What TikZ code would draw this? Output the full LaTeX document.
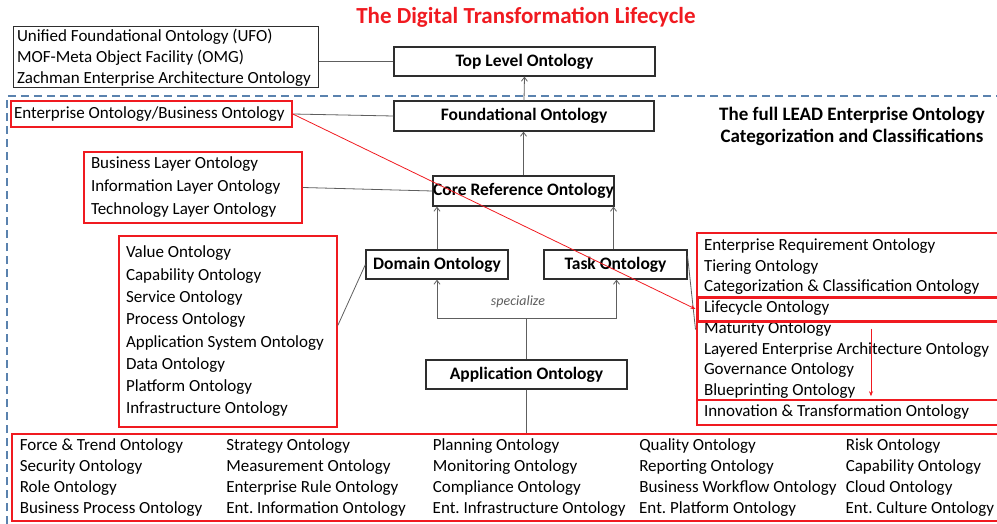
\documentclass[tikz,border=0pt]{standalone}
\usepackage{fontspec}
\setmainfont{Carlito}
\usetikzlibrary{arrows.meta}
\definecolor{beni}{HTML}{F01A20}
\definecolor{ai}{HTML}{5A82AE}
\definecolor{nezumi}{HTML}{5E5E5E}
\definecolor{sumi}{HTML}{2E2E2E}

\begin{document}
\begin{tikzpicture}[x=1pt, y=-1pt,
    every node/.style={font=\fontsize{17}{21}\selectfont, execute at begin node={\spaceskip=0pt\xspaceskip=0pt\relax}},
    level/.style={draw=sumi, line width=1.2pt, inner sep=0pt, font=\fontsize{17.5}{20}\selectfont\bfseries},
    listbox/.style={draw=beni, line width=1.6pt, align=left, inner xsep=6pt, inner ysep=0pt},
    plainbox/.style={listbox, draw=sumi, line width=1pt, inner xsep=4pt},
    mark box/.style={draw=beni, inner sep=0pt, minimum width=309pt},
    link/.style={draw=nezumi, line width=0.8pt},
    up/.style={link, -{Straight Barb[length=4pt,width=6pt]}},
    redline/.style={draw=beni, line width=0.8pt, -{Stealth[length=5pt,width=4pt]}}]
    \useasboundingbox (0,0) rectangle (997,524);

    % title and caption
    \node[text=beni, font=\fontsize{23}{25}\selectfont\bfseries] (title) at (526,17) {The Digital Transformation Lifecycle};
    \node[align=center, font=\fontsize{19}{22}\selectfont\bfseries] (caption) at (852,126) {The full LEAD Enterprise Ontology\\Categorization and Classifications};

    % dashed frame of the enterprise part
    \draw[ai, line width=1.3pt, dash pattern=on 8pt off 5pt] (7,524) -- (7,96) -- (997,96);

    % the levels
    \node[level, minimum width=261pt, minimum height=29pt] (top) at (524.5,61.5) {Top Level Ontology};
    \node[level, minimum width=260pt, minimum height=30pt] (found) at (524,116) {Foundational Ontology};
    \node[level, minimum width=181pt, minimum height=30pt] (core) at (523.5,191) {Core Reference Ontology};
    \node[level, minimum width=142pt, minimum height=29pt] (dom) at (437,264.5) {Domain Ontology};
    \node[level, minimum width=143pt, minimum height=29pt] (task) at (615.5,264.5) {Task Ontology};
    \node[level, minimum width=201pt, minimum height=29pt] (app) at (526.5,374.5) {Application Ontology};

    % the lists
    \node[plainbox, text width=297pt, minimum height=61pt] (upper) at (165.5,57.5)
        {Unified Foundational Ontology (UFO)\\MOF-Meta Object Facility (OMG)\\Zachman Enterprise Architecture Ontology};
    \node[listbox, inner xsep=3pt, text width=275pt, minimum height=26pt] (ent) at (151.5,114)
        {Enterprise Ontology/Business Ontology};
    \node[listbox, inner xsep=7pt, text width=204pt, minimum height=71pt, font=\fontsize{17}{23}\selectfont] (layers) at (193,187.5)
        {Business Layer Ontology\\Information Layer Ontology\\Technology Layer Ontology};
    \node[listbox, inner xsep=7pt, text width=204pt, minimum height=191pt, font=\fontsize{17}{22.3}\selectfont] (values) at (228,331.5)
        {Value Ontology\\Capability Ontology\\Service Ontology\\Process Ontology\\Application System Ontology\\Data Ontology\\Platform Ontology\\Infrastructure Ontology};
    \node[listbox, inner xsep=7pt, text width=295pt, minimum height=192pt, font=\fontsize{17}{20.75}\selectfont] (life) at (851.5,329)
        {Enterprise Requirement Ontology\\Tiering Ontology\\Categorization \& Classification Ontology\\Lifecycle Ontology\\Maturity Ontology\\Layered Enterprise Architecture Ontology\\Governance Ontology\\Blueprinting Ontology\\Innovation \& Transformation Ontology};
    \node[mark box, line width=3pt, minimum height=24pt] (lifeHL) at (851.5,309) {};
    \node[mark box, line width=1.6pt, minimum height=25pt] (innovHL) at (851.5,412.5) {};
    \node[listbox, anchor=west, inner xsep=8pt, minimum height=87pt] (rest) at (11,477.5)
        {\setlength{\tabcolsep}{0pt}\begin{tabular}{p{206.5pt}p{206.5pt}p{206.5pt}p{206.5pt}l}
        Force \& Trend Ontology & Strategy Ontology & Planning Ontology & Quality Ontology & Risk Ontology\\
        Security Ontology & Measurement Ontology & Monitoring Ontology & Reporting Ontology & Capability Ontology\\
        Role Ontology & Enterprise Rule Ontology & Compliance Ontology & Business Workflow Ontology & Cloud Ontology\\
        Business Process Ontology & Ent.\ Information Ontology & Ent.\ Infrastructure Ontology & Ent.\ Platform Ontology & Ent.\ Culture Ontology
        \end{tabular}};

    % specialization
    \coordinate (split) at (526.5,318);
    \node[text=nezumi, font=\fontsize{14}{16}\selectfont\itshape] (spec) at (518,302) {specialize};
    \draw[up] (app.north) -- (split) -| (dom.south);
    \draw[up] (split) -| ([xshift=1pt]task.south);
    \draw[link] (app.south) -- (app.south |- rest.north);

    % up the levels
    \draw[up] (found.north) -- (top.south);
    \draw[up] (core.north) -- (core.north |- found.south);
    \draw[up] (dom.north) -- (dom.north |- core.south);
    \draw[up] ([xshift=-2pt]task.north) -- ([xshift=-2pt]task.north |- core.south);

    % lists to levels
    \draw[link] (top.west -| upper.east) -- (top.west);
    \draw[link] (ent.east) -- (found.west);
    \draw[link] (layers.east) -- (core.west);
    \draw[link] ([yshift=6pt]values.east) -- (dom.west);
    \draw[link] ([yshift=-7pt]task.north east) -- ([yshift=-7pt]lifeHL.south west);

    % lifecycle path
    \draw[redline] (ent.east) -- (lifeHL.west);
    \draw[redline, line width=0.6pt] ([yshift=-6pt]lifeHL.south -| 871,0) -- ([yshift=3pt]innovHL.north -| 871,0);
\end{tikzpicture}
\end{document}
